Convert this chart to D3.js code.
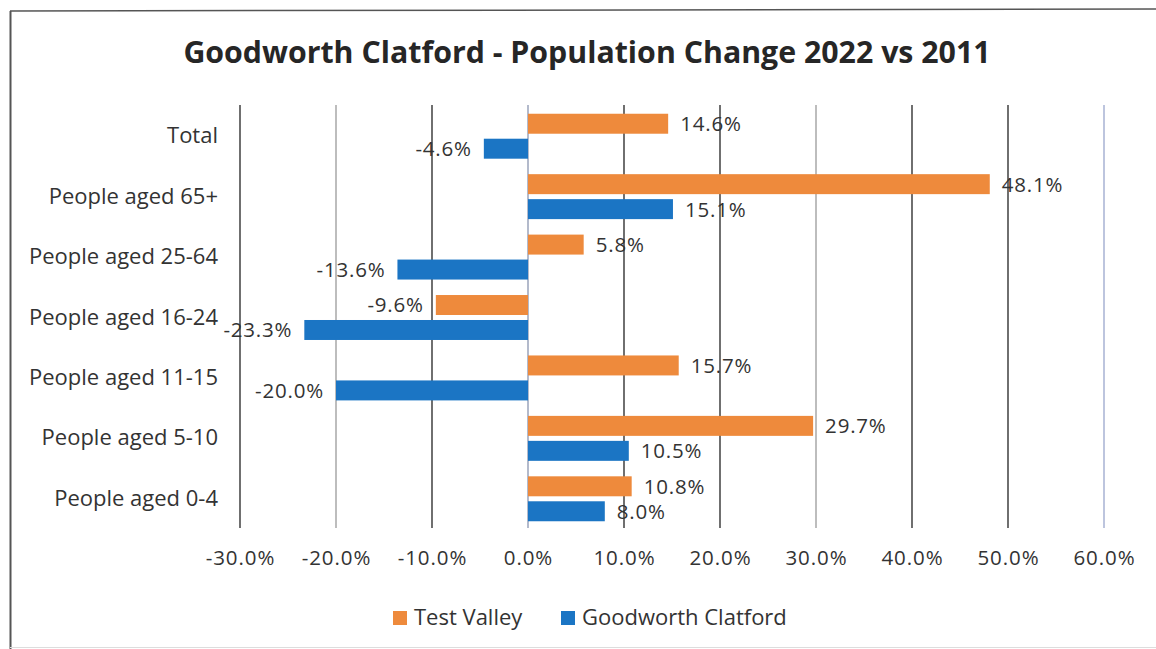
<!DOCTYPE html>
<html>
<head>
<meta charset="utf-8">
<script src="https://cdn.jsdelivr.net/npm/d3@7"></script>
<style>
  html, body { margin: 0; padding: 0; background: #fff; }
  svg { display: block; }
  text { font-family: "Open Sans", Lato, sans-serif; fill: #333; }
</style>
</head>
<body>
<svg id="chart" width="1156" height="649"></svg>
<script>
// Age groups, top to bottom
const categories = [
  "Total",
  "People aged 65+",
  "People aged 25-64",
  "People aged 16-24",
  "People aged 11-15",
  "People aged 5-10",
  "People aged 0-4"
];
const seriesNames = ["Test Valley", "Goodworth Clatford"];
// Percentage change 2011 -> 2022
const testValley = [14.6, 48.1, 5.8, -9.6, 15.7, 29.7, 10.8];
const goodworthClatford = [-4.6, 15.1, -13.6, -23.3, -20.0, 10.5, 8.0];
const tickValues = [-30, -20, -10, 0, 10, 20, 30, 40, 50, 60];
const titleText = "Goodworth Clatford - Population Change 2022 vs 2011";

const colors = { "Test Valley": "#EE8A3C", "Goodworth Clatford": "#1B75C4" };
const gridColor = v => ([-20, 30].includes(v) ? "#9a9a9a" : v === 0 ? "#8a95b0" : v === 60 ? "#9aa6cc" : "#222");

const svg = d3.select("#chart");

// frame
svg.append("line").attr("x1", 10.5).attr("x2", 10.5).attr("y1", 11).attr("y2", 649)
  .attr("stroke", "#555").attr("stroke-width", 2);
svg.append("line").attr("x1", 10).attr("x2", 1156).attr("y1", 11).attr("y2", 9)
  .attr("stroke", "#555").attr("stroke-width", 1.5);
svg.append("line").attr("x1", 10).attr("x2", 1156).attr("y1", 647.5).attr("y2", 647.5)
  .attr("stroke", "#ddd").attr("stroke-width", 1);

// title
svg.append("text")
  .attr("x", 587).attr("y", 55)
  .attr("text-anchor", "middle").attr("dominant-baseline", "middle")
  .style("font-size", "30.3px").style("font-weight", "bold").style("fill", "#262626")
  .text(titleText);

const x = d3.scaleLinear().domain([-30, 60]).range([240, 1104]);
const y = d3.scaleBand().domain(categories).range([106, 529]).padding(0);
const ySub = d3.scaleBand().domain(seriesNames).range([0, y.bandwidth()])
  .paddingInner(0.2).paddingOuter(0.31);

// vertical gridlines
svg.append("g").selectAll("line").data(tickValues).join("line")
  .attr("x1", d => x(d)).attr("x2", d => x(d))
  .attr("y1", 105).attr("y2", 528)
  .attr("stroke", d => gridColor(d)).attr("stroke-width", 1.3);

// x axis labels
const xAxis = d3.axisBottom(x).tickValues(tickValues).tickSize(0)
  .tickFormat(d => d.toFixed(1) + "%");
const gx = svg.append("g").attr("transform", "translate(0,547)").call(xAxis);
gx.select(".domain").remove();
gx.selectAll("text").style("font-size", "20.5px").style("letter-spacing", "0.9px")
  .style("fill", "#333");

// category labels
const yAxis = d3.axisLeft(y).tickSize(0).tickPadding(0);
const gy = svg.append("g").attr("transform", "translate(218,0)").call(yAxis);
gy.select(".domain").remove();
gy.selectAll("text").style("font-size", "22px").style("fill", "#333");

// bars
const rows = categories.map((c, i) => ({
  category: c,
  values: [
    { series: "Test Valley", value: testValley[i] },
    { series: "Goodworth Clatford", value: goodworthClatford[i] }
  ]
}));

const groups = svg.append("g").selectAll("g").data(rows).join("g")
  .attr("transform", d => `translate(0,${y(d.category)})`);

groups.selectAll("rect").data(d => d.values).join("rect")
  .attr("x", d => Math.min(x(0), x(d.value)))
  .attr("width", d => Math.abs(x(d.value) - x(0)))
  .attr("y", d => ySub(d.series))
  .attr("height", ySub.bandwidth())
  .attr("fill", d => colors[d.series]);

groups.selectAll("text").data(d => d.values).join("text")
  .attr("x", d => d.value >= 0 ? x(d.value) + 12 : x(d.value) - 12)
  .attr("y", d => ySub(d.series) + ySub.bandwidth() / 2 + 2)
  .attr("text-anchor", d => d.value >= 0 ? "start" : "end")
  .attr("dominant-baseline", "middle")
  .style("font-size", "20.5px").style("letter-spacing", "0.8px").style("fill", "#333")
  .text(d => d.value.toFixed(1) + "%");

// legend
const legend = svg.append("g").attr("transform", "translate(393,618)");
const legendOffsets = [0, 168];
seriesNames.forEach((s, i) => {
  const g = legend.append("g").attr("transform", `translate(${legendOffsets[i]},0)`);
  g.append("rect").attr("x", 0).attr("y", -7).attr("width", 14).attr("height", 14)
    .attr("fill", colors[s]);
  g.append("text").attr("x", 21).attr("y", 1)
    .attr("dominant-baseline", "middle")
    .style("font-size", "22px").style("fill", "#333")
    .text(s);
});
</script>
</body>
</html>
